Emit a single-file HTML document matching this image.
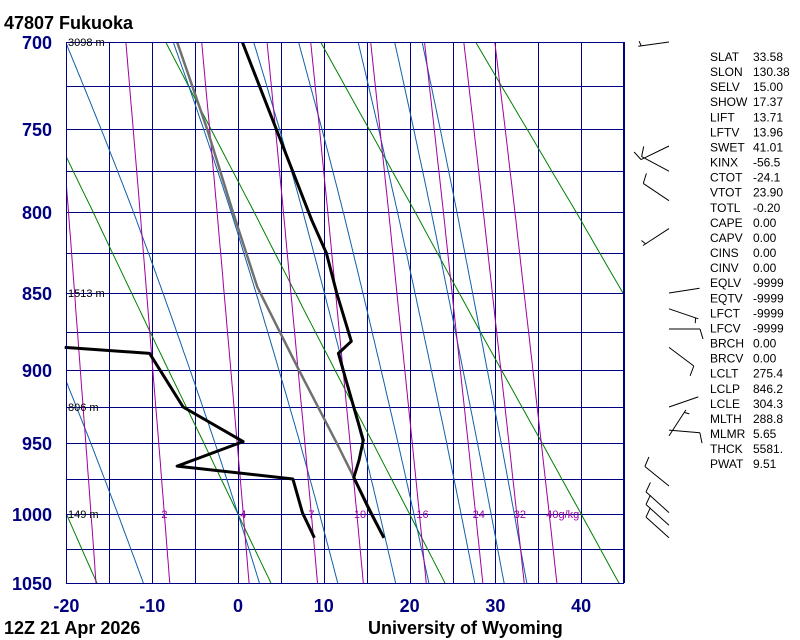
<!DOCTYPE html>
<html><head><meta charset="utf-8">
<style>
html,body{margin:0;padding:0;background:#fff;}
body{width:800px;height:640px;position:relative;overflow:hidden;font-family:"Liberation Sans",Arial,sans-serif;}
svg{position:absolute;left:0;top:0;}
</style></head>
<body>
<svg id="chart" width="800" height="640" viewBox="0 0 800 640"></svg>
<script>
// ---- data ----
const pressureTicks = [700, 750, 800, 850, 900, 950, 1000, 1050];
const pressureMinor = [725, 775, 825, 875, 925, 975, 1025];
const tempTicks = [-20, -10, 0, 10, 20, 30, 40];
const heightLevels = [700, 850, 925, 1000];
const heightLabels = ["3098 m", "1513 m", "806 m", "149 m"];
const tempP = [700, 805, 825, 850, 881, 889, 907, 948, 962, 974, 997, 1017];
const tempT = [0.5, 8.6, 10.3, 11.5, 13.2, 11.7, 12.6, 14.6, 14.1, 13.5, 15.3, 17.0];
const dewP = [885, 889, 925, 949, 966, 975, 999, 1017];
const dewT = [-20.2, -10.3, -6.4, 0.6, -7.1, 6.4, 7.5, 8.9];
const parcelP = [1017, 950, 900, 846.2, 800, 750, 700];
const parcelT = [17, 11.5, 7.1, 2.25, -0.6, -3.6, -7.1];
const dryTheta = [213.15, 233.15, 253.15, 273.15, 293.15, 313.15, 333.15, 353.15, 373.15];
const moistT1000 = [-14, 0, 9.5, 16.5, 20.5, 26, 29.5, 32.2];
const mixRatios = [1, 2, 4, 7, 10, 16, 24, 32, 40];
const mixLabels = ["", "2", "4", "7", "10", "16", "24", "32", "40g/kg"];
const windP = [700, 760, 775, 793, 810, 850, 860, 873, 885, 925, 941, 945, 980, 999, 1008, 1017];
const windDir = [262, 244, 298, 304, 237, 81, 109, 90, 127, 71, 95, 33, 309, 312, 312, 312];
const windSpd = [5, 10, 10, 10, 5, 3, 5, 10, 10, 3, 10, 5, 10, 10, 10, 10];
const statKeys = ["SLAT","SLON","SELV","SHOW","LIFT","LFTV","SWET","KINX","CTOT","VTOT","TOTL","CAPE","CAPV","CINS","CINV","EQLV","EQTV","LFCT","LFCV","BRCH","BRCV","LCLT","LCLP","LCLE","MLTH","MLMR","THCK","PWAT"];
const statVals = ["33.58","130.38","15.00","17.37","13.71","13.96","41.01","-56.5","-24.1","23.90","-0.20","0.00","0.00","0.00","0.00","-9999","-9999","-9999","-9999","0.00","0.00","275.4","846.2","304.3","288.8","5.65","5581.","9.51"];

// ---- axes ----
const KP = [700, 750, 800, 850, 900, 950, 1000, 1050];
const KY = [42, 129, 212, 293, 370, 443, 514, 583];
function yOfP(p){
  let i = 0;
  if (p <= KP[0]) i = 0; else if (p >= KP[KP.length-1]) i = KP.length-2;
  else { while (p > KP[i+1]) i++; }
  const f = (Math.log(p)-Math.log(KP[i]))/(Math.log(KP[i+1])-Math.log(KP[i]));
  return KY[i] + f*(KY[i+1]-KY[i]);
}
function xOfT(t){ return 238 + 8.58*t; }
const X0 = 66, X1 = 624, Y0 = 42, Y1 = 583;
const NS = "http://www.w3.org/2000/svg";
const svg = document.getElementById('chart');
function mk(tag, attrs, parent){ const e = document.createElementNS(NS, tag); for (const k in attrs) e.setAttribute(k, attrs[k]); (parent||svg).appendChild(e); return e; }
const defs = mk('defs', {});
const cp = mk('clipPath', {id:'plotclip'}, defs);
mk('rect', {x:X0, y:Y0, width:X1-X0, height:Y1-Y0}, cp);

function pathFrom(pts){ return pts.map((q,i)=>(i?'L':'M')+q[0].toFixed(1)+' '+q[1].toFixed(1)).join(' '); }

// grid
const grid = mk('g', {stroke:'#000080', 'stroke-width':1, fill:'none'});


for (let t = -20; t <= 45; t += 5){
  const x = Math.round(xOfT(t)) + 0.5;
  const l = mk('line', {x1:x, y1:Y0, x2:x, y2:Y1}, grid);
  
  
}
pressureTicks.concat(pressureMinor).forEach(p=>{
  const y = Math.round(yOfP(p)) + 0.5;
  const l = mk('line', {x1:X0, y1:y, x2:X1, y2:y}, grid);
  
  
});

const plot = mk('g', {'clip-path':'url(#plotclip)', fill:'none'});



// dry adiabats
dryTheta.forEach(th=>{
  const pts = [];
  for (let p = 640; p <= 1060; p += 5) pts.push([xOfT(th*Math.pow(p/1000,0.286)-273.15), yOfP(p)]);
  const e = mk('path', {d:pathFrom(pts), stroke:'#008000', 'stroke-width':1, fill:'none'}, plot);
  
  
});
// moist adiabats
function dTdp(p, T){
  const Tc = T-273.15; const es = 6.112*Math.exp(17.67*Tc/(Tc+243.5));
  const rs = 0.622*es/(p-es); const Lv = 2.501e6, Rd = 287.04, cpd = 1005.7;
  return (Rd*T + Lv*rs)/(p*(cpd + Lv*Lv*rs*0.622/(Rd*T*T)));
}
moistT1000.forEach(t0=>{
  const up = []; let T = t0+273.15;
  for (let p = 1000; p >= 640; p -= 2){ up.push([xOfT(T-273.15), yOfP(p)]); T -= dTdp(p,T)*2; }
  const dn = []; T = t0+273.15;
  for (let p = 1000; p <= 1060; p += 2){ dn.push([xOfT(T-273.15), yOfP(p)]); T += dTdp(p,T)*2; }
  const pts = up.reverse().concat(dn.slice(1));
  const e = mk('path', {d:pathFrom(pts), stroke:'#1060a8', 'stroke-width':1, fill:'none'}, plot);
  
  
});
// mixing ratio lines
function tdOfW(w, p){ const e = w*p/(622+w); const a = Math.log(e/6.112); return 243.5*a/(17.67-a); }
mixRatios.forEach((w,i)=>{
  const pts = [];
  for (let p = 690; p <= 1060; p += 5) pts.push([xOfT(tdOfW(w,p)), yOfP(p)]);
  const e = mk('path', {d:pathFrom(pts), stroke:'#a000a0', 'stroke-width':1, fill:'none'}, plot);
  
  
  if (mixLabels[i]){
    const tx = mk('text', {x:xOfT(tdOfW(w,1000))-3, y:yOfP(1000)+4, fill:'#a000a0', 'font-size':11, 'font-family':'Liberation Sans, sans-serif'});
    tx.textContent = mixLabels[i];
    
    
  }
});
// parcel path
const parcel = mk('path', {d:pathFrom(parcelP.map((p,i)=>[xOfT(parcelT[i]), yOfP(p)])), stroke:'#707070', 'stroke-width':2.5, 'stroke-linejoin':'round', fill:'none'}, plot);


// temperature
const tl = mk('path', {d:pathFrom(tempP.map((p,i)=>[xOfT(tempT[i]), yOfP(p)])), stroke:'#000', 'stroke-width':3, 'stroke-linejoin':'round', fill:'none'}, plot);


// dewpoint
const dl = mk('path', {d:pathFrom(dewP.map((p,i)=>[xOfT(dewT[i]), yOfP(p)])), stroke:'#000', 'stroke-width':3, 'stroke-linejoin':'round', fill:'none'});



// border
const border = mk('rect', {x:X0+0.5, y:Y0+0.5, width:X1-X0-1, height:Y1-Y0, fill:'none', stroke:'#000080', 'stroke-width':1});



// height labels
heightLevels.forEach((p,i)=>{
  const t = mk('text', {x:68, y:yOfP(p)+4, fill:'#000', 'font-size':11, 'font-family':'Liberation Sans, sans-serif'});
  t.textContent = heightLabels[i];
  
  
});
// y ticks
pressureTicks.forEach(p=>{
  const t = mk('text', {x:52, y:yOfP(p)+7, fill:'#000080', 'font-size':18, 'font-weight':'bold', 'text-anchor':'end', 'font-family':'Liberation Sans, sans-serif'});
  t.textContent = p;
  
  
});
// x ticks
tempTicks.forEach(tv=>{
  const t = mk('text', {x:xOfT(tv), y:612, fill:'#000080', 'font-size':18, 'font-weight':'bold', 'text-anchor':'middle', 'font-family':'Liberation Sans, sans-serif'});
  t.textContent = tv;
  
  
});
// titles
const title = mk('text', {x:4, y:29, fill:'#000', 'font-size':18, 'font-weight':'bold', 'font-family':'Liberation Sans, sans-serif', 'xml:space':'preserve'});
title.textContent = '47807  Fukuoka';


const dt = mk('text', {x:4, y:634, fill:'#000', 'font-size':18, 'font-weight':'bold', 'font-family':'Liberation Sans, sans-serif'});
dt.textContent = '12Z 21 Apr 2026';


const uw = mk('text', {x:368, y:634, fill:'#000', 'font-size':18, 'font-weight':'bold', 'font-family':'Liberation Sans, sans-serif'});
uw.textContent = 'University of Wyoming';



// wind barbs
const wb = mk('g', {stroke:'#000', 'stroke-width':1, fill:'none'});


windP.forEach((p,i)=>{
  const sx = 669, sy = yOfP(p), L = 31;
  const a = windDir[i]*Math.PI/180;
  const ux = Math.sin(a), uy = -Math.cos(a);
  const ex = sx+ux*L, ey = sy+uy*L;
  let d = 'M'+sx+' '+sy.toFixed(1)+' L'+ex.toFixed(1)+' '+ey.toFixed(1);
  const px = -uy, py = ux;
  let spd = windSpd[i], pos = 0;
  while (spd >= 10){ const bx = ex-ux*pos, by = ey-uy*pos; d += ' M'+bx.toFixed(1)+' '+by.toFixed(1)+' L'+(bx+px*10+ux*3).toFixed(1)+' '+(by+py*10+uy*3).toFixed(1); spd -= 10; pos += 4; }
  if (spd >= 5){ if (pos===0) pos = 3; const bx = ex-ux*pos, by = ey-uy*pos; d += ' M'+bx.toFixed(1)+' '+by.toFixed(1)+' L'+(bx+px*5+ux*1.5).toFixed(1)+' '+(by+py*5+uy*1.5).toFixed(1); }
  const e = mk('path', {d:d, fill:'none'}, wb);
  
  
});

// stats
const st = mk('g', {fill:'#000', 'font-size':12, 'font-family':'Liberation Sans, sans-serif'});


statKeys.forEach((k,i)=>{
  const y = 61 + i*15.08;
  const a = mk('text', {x:710, y:y}, st); a.textContent = k;
  
  
  const b = mk('text', {x:753, y:y}, st); b.textContent = statVals[i];
  
  
});
</script>
</body></html>
